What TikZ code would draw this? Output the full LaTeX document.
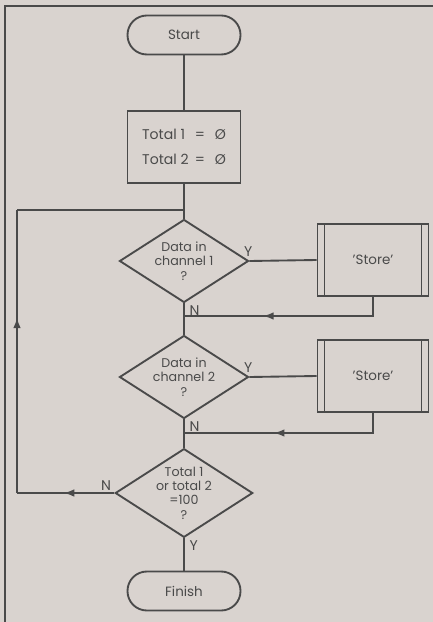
\documentclass[tikz,border=0pt]{standalone}
\usepackage{fontspec}
\setmainfont{Poppins}
\usepackage{tikz}
\usetikzlibrary{arrows.meta, positioning, shapes.geometric, decorations.markings}
\definecolor{paper}{RGB}{217, 211, 207}
\definecolor{ink}{RGB}{74, 74, 74}

\tikzset{
    term/.style={draw=ink, rounded corners=0.58cm, minimum width=3.39cm, minimum height=1.17cm, inner sep=0pt, font=\fontsize{11.5}{13}\selectfont},
    proc/.style={draw=ink, minimum width=3.39cm, minimum height=2.16cm, inner sep=0pt, align=center, font=\fontsize{12}{14}\selectfont},
    decis/.style={draw=ink, diamond, aspect=1.55, minimum width=3.87cm, minimum height=2.49cm, inner sep=0pt, align=center, font=\fontsize{10.8}{12.3}\selectfont},
    subproc/.style={draw=ink, minimum width=3.33cm, minimum height=2.16cm, inner sep=0pt, font=\fontsize{11.5}{13}\selectfont,
        path picture={
            \draw[ink, line width=1.6pt] ([xshift=0.21cm]path picture bounding box.north west) -- ([xshift=0.21cm]path picture bounding box.south west)
                ([xshift=-0.21cm]path picture bounding box.north east) -- ([xshift=-0.21cm]path picture bounding box.south east);
        }},
    yn/.style={font=\fontsize{12}{13}\selectfont, inner sep=1pt},
    midarrow/.style={postaction={decorate}, decoration={markings, mark=at position #1 with {\arrow{Latex[length=9pt, width=6.5pt]}}}}
}

\begin{document}
\begin{tikzpicture}[x=0.03cm, y=-0.03cm, color=ink, line width=1.6pt]
    % Papier und Rahmen
    \fill[paper] (0, 0) rectangle (433, 622);
    \useasboundingbox (0, 0) rectangle (433, 622);
    \draw[line width=1.2pt] (433, 6) -- (5, 6) -- (5, 622);

    % Knoten
    \node[term] (start) at (184, 35) {Start};
    \node[proc] (init) at (184, 147) {Total 1 \, = \, Ø\\[7pt]Total 2 \,= \, Ø};
    \node[decis] (dat1) at (184, 261) {Data in\\channel 1\\?};
    \node[subproc] (store1) at (373, 260) {'Store'};
    \node[decis] (dat2) at (184, 377) {Data in\\channel 2\\?};
    \node[subproc] (store2) at (373, 376) {'Store'};
    \node[decis, minimum width=4.02cm, minimum height=2.58cm] (tot) at (184, 493) {Total 1\\or total 2\\=100\\?};
    \node[term] (finish) at (184, 591) {Finish};

    % Verzweigungspunkte
    \coordinate (loopin) at (184, 210);
    \coordinate (back1) at (184, 316);
    \coordinate (back2) at (184, 433);
    \coordinate (lbot) at (17, 493);
    \coordinate (ltop) at (17, 210);

    % Hauptlinie
    \draw (start) -- (init);
    \draw (init) -- (dat1);
    \draw (dat1) -- (dat2);
    \draw (dat2) -- (tot);
    \draw (tot) -- (finish);

    % Ja-Zweige
    \draw (dat1.east) -- (store1.west);
    \draw (dat2.east) -- (store2.west);
    \draw[midarrow=0.62] (store1.south) |- (back1);
    \draw[midarrow=0.57] (store2.south) |- (back2);

    % Schleife zurueck
    \draw[midarrow=0.52] (tot.west) -- (lbot);
    \draw[midarrow=0.62] (lbot) -- (ltop);
    \draw (ltop) -- (loopin);

    % Beschriftungen
    \node[yn, anchor=south] at ([xshift=-1pt, yshift=2pt]dat1.east) {Y};
    \node[yn, anchor=north west] at ([xshift=3pt]dat1.south) {N};
    \node[yn, anchor=south] at ([xshift=-1pt, yshift=2pt]dat2.east) {Y};
    \node[yn, anchor=north west] at ([xshift=3pt]dat2.south) {N};
    \node[yn, anchor=south east] at ([xshift=-1pt]tot.west) {N};
    \node[yn, anchor=north west] at ([xshift=3pt]tot.south) {Y};
\end{tikzpicture}
\end{document}
